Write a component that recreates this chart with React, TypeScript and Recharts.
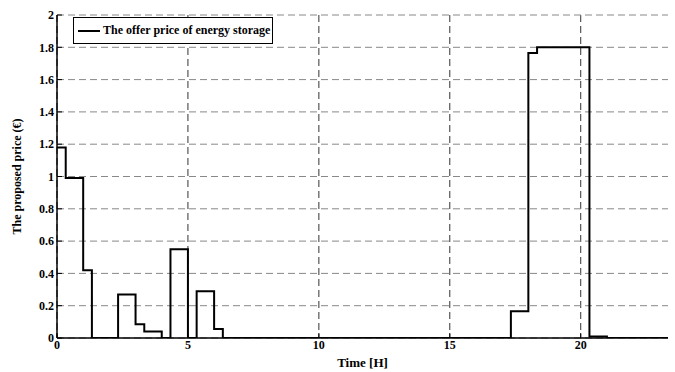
import React from "react";
import {
  LineChart, Line, XAxis, YAxis, CartesianGrid, Legend, Label,
} from "recharts";

// step edges in hours (20-minute slots) and the price held from each edge on
const stepTimes = [0, 0.333, 1, 1.333, 2.333, 3, 3.333, 4, 4.333, 5, 5.333, 6, 6.333, 17.333, 18, 18.333, 20.333, 21, 23.333];
const stepPrices = [1.18, 0.99, 0.42, 0, 0.27, 0.085, 0.04, 0, 0.55, 0, 0.29, 0.055, 0, 0.165, 1.765, 1.8, 0.01, 0, 0];

const xTicks = [0, 5, 10, 15, 20];
const yTicks = [0, 0.2, 0.4, 0.6, 0.8, 1, 1.2, 1.4, 1.6, 1.8, 2];
const seriesName = "The offer price of energy storage";

const data = stepTimes.map((t, i) => ({ t, price: stepPrices[i] }));

const FONT = "'Liberation Serif', 'Times New Roman', serif";
const tickStyle = {
  fontFamily: FONT, fontWeight: 700, fontSize: 12, fill: "#000",
  style: { fontFamily: FONT, fontWeight: 700, fontSize: 12 },
};

function LegendBox() {
  return (
    <div
      style={{
        position: "absolute", left: 73, top: 17, width: 200, height: 27,
        border: "1px solid #000", background: "#fff", boxSizing: "border-box",
        display: "flex", alignItems: "center", fontFamily: FONT, fontWeight: 700, fontSize: 12,
        whiteSpace: "nowrap",
      }}
    >
      <span style={{ display: "inline-block", width: 22, height: 2, background: "#000", marginLeft: 4, marginRight: 3 }} />
      {seriesName}
    </div>
  );
}

export default function App() {
  return (
    <div style={{ position: "absolute", left: 0, top: 0, width: 675, height: 372, background: "#fff" }}>
      <LineChart width={675} height={372} data={data} margin={{ top: 15, right: 7, bottom: 0, left: 0 }}>
        <CartesianGrid horizontal={false} stroke="#333" strokeDasharray="7 4" verticalValues={xTicks} />
        <CartesianGrid vertical={false} stroke="#888" strokeDasharray="7 4" horizontalValues={yTicks} />
        <XAxis
          dataKey="t" type="number" domain={[0, 23.333]} ticks={xTicks} height={34}
          axisLine={{ stroke: "#000", strokeWidth: 1.5 }} tickLine={{ stroke: "#000" }}
          tickSize={-5} tickMargin={7} tick={tickStyle} allowDataOverflow
        >
          <Label value="Time [H]" position="insideBottom" offset={5}
            style={{ fontFamily: FONT, fontWeight: 700, fontSize: 13, fill: "#000" }} />
        </XAxis>
        <XAxis xAxisId="top" orientation="top" type="number" domain={[0, 23.333]} ticks={xTicks} height={0}
          axisLine={{ stroke: "#000", strokeWidth: 1.5 }} tickLine={{ stroke: "#000" }} tickSize={-5}
          tickFormatter={() => ""} allowDataOverflow />
        <YAxis
          type="number" domain={[0, 2]} ticks={yTicks} width={57}
          axisLine={{ stroke: "#000", strokeWidth: 1.5 }} tickLine={{ stroke: "#000" }}
          tickSize={-5} tickMargin={8} tick={tickStyle} allowDataOverflow
        >
          <Label value="The proposed price (€)" angle={-90} position="insideLeft" offset={17}
            style={{ fontFamily: FONT, fontWeight: 700, fontSize: 12, fill: "#000", textAnchor: "middle" }} />
        </YAxis>
        <YAxis yAxisId="right" orientation="right" type="number" domain={[0, 2]} ticks={yTicks} width={0}
          axisLine={{ stroke: "#000", strokeWidth: 1.5 }} tickLine={{ stroke: "#000" }} tickSize={-5}
          tickFormatter={() => ""} allowDataOverflow />
        <Legend content={() => <LegendBox />} wrapperStyle={{ position: "absolute", left: 0, top: 0 }} />
        <Line type="stepAfter" dataKey="price" name={seriesName} stroke="#000" strokeWidth={2}
          dot={false} isAnimationActive={false} />
      </LineChart>
    </div>
  );
}
